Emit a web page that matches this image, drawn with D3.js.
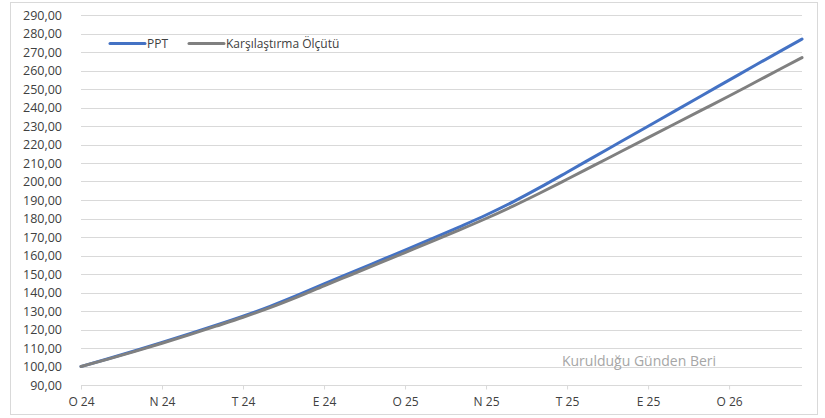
<!DOCTYPE html>
<html>
<head>
<meta charset="utf-8">
<script src="https://cdn.jsdelivr.net/npm/d3@7"></script>
<style>
  html, body { margin: 0; padding: 0; background: #fff; }
  svg { display: block; }
  text { font-family: "Open Sans", "Noto Sans", sans-serif; }
</style>
</head>
<body>
<svg id="chart" width="825" height="418"></svg>
<script>
// ---- data (month index from start) ----
const months = [0,1,2,3,4,5,6,7,8,9,10,11,12,13,14,15,16,17,18,19,20,21,22,23,24,25,26,26.7];
const ppt = [100,104.2,108.5,113.0,117.6,122.3,127.2,132.5,138.4,144.6,150.7,156.8,162.9,169.1,175.4,181.9,189.0,196.8,205.0,213.3,221.6,229.9,238.2,246.5,254.8,263.1,271.3,277];
const benchmark = [100,104.0,108.2,112.6,117.1,121.8,126.6,131.8,137.5,143.6,149.6,155.6,161.6,167.6,173.7,180.0,186.7,193.8,201.2,208.7,216.2,223.7,231.2,238.7,246.2,253.9,261.6,267];
const tickMonths = [0,3,6,9,12,15,18,21,24];
const tickLabels = ["O 24","N 24","T 24","E 24","O 25","N 25","T 25","E 25","O 26"];
const yTicks = [90,100,110,120,130,140,150,160,170,180,190,200,210,220,230,240,250,260,270,280,290];
const seriesNames = ["PPT","Karşılaştırma Ölçütü"];
const seriesColors = ["#4472C4","#808080"];
const annotation = "Kurulduğu Günden Beri";

const svg = d3.select("#chart");

// outer border
svg.append("rect").attr("x",10.5).attr("y",2.5).attr("width",807).attr("height",412)
  .attr("fill","#fff").attr("stroke","#d9d9d9").attr("stroke-width",1);

const x = d3.scaleLinear().domain([0, d3.max(months)]).range([81, 802]);
const y = d3.scaleLinear().domain([90, 290]).range([385, 15]);

const fmt = d3.formatLocale({decimal:",", thousands:".", grouping:[3], currency:["",""]}).format(".2f");

// gridlines
svg.append("g").selectAll("line").data(yTicks.slice(1)).join("line")
  .attr("x1", x.range()[0]).attr("x2", x.range()[1])
  .attr("y1", d => Math.round(y(d)) + 0.5).attr("y2", d => Math.round(y(d)) + 0.5)
  .attr("stroke", "#d9d9d9").attr("stroke-width", 1);

// y labels
svg.append("g").selectAll("text").data(yTicks).join("text")
  .attr("x", 62).attr("y", d => y(d))
  .attr("text-anchor","end").attr("dominant-baseline","central")
  .attr("font-size", 12.5).attr("fill","#404040")
  .text(d => fmt(d));

// x axis
const xAxis = d3.axisBottom(x).tickValues(tickMonths)
  .tickFormat((d,i) => tickLabels[i]).tickSize(4).tickPadding(8);
const gx = svg.append("g").attr("transform", `translate(0,${Math.round(y(90)) + 0.5})`).call(xAxis);
gx.select(".domain").attr("stroke","#d9d9d9").attr("d", `M${x.range()[0]},0H${x.range()[1]}`);
gx.selectAll(".tick line").attr("stroke","#d9d9d9");
gx.selectAll(".tick text").attr("font-size",12).attr("fill","#404040")
  .attr("font-family",'"Open Sans", sans-serif');

// annotation
svg.append("text").attr("x", 639).attr("y", 360)
  .attr("text-anchor","middle").attr("dominant-baseline","central")
  .attr("font-size", 14).attr("fill","#a6a6a6").text(annotation);

// lines
const line = d3.line().curve(d3.curveMonotoneX).x((d,i) => x(months[i])).y(d => y(d));
[ppt, benchmark].forEach((s, k) => {
  svg.append("path").datum(s).attr("d", line)
    .attr("fill","none").attr("stroke", seriesColors[k]).attr("stroke-width", 3)
    .attr("stroke-linejoin","round").attr("stroke-linecap","round");
});

// legend
const legendX = [110, 189];
seriesNames.forEach((n, k) => {
  const g = svg.append("g").attr("transform", `translate(${legendX[k]},43.5)`);
  g.append("line").attr("x1",0).attr("x2",35).attr("y1",0).attr("y2",0)
    .attr("stroke", seriesColors[k]).attr("stroke-width",3).attr("stroke-linecap","round");
  g.append("text").attr("x",37).attr("y",0).attr("dominant-baseline","central")
    .attr("font-size",12).attr("fill","#404040").text(n);
});
</script>
</body>
</html>
